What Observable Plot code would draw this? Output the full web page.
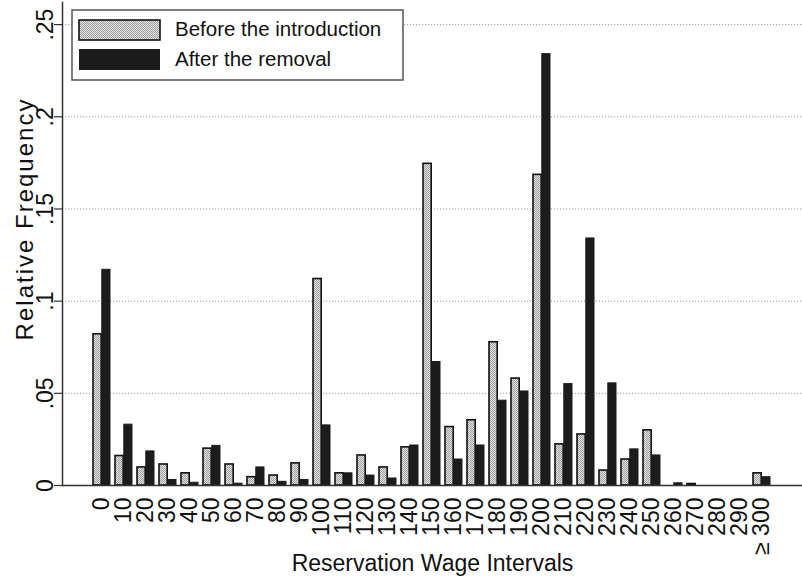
<!DOCTYPE html>
<html><head><meta charset="utf-8">
<script src="https://cdn.jsdelivr.net/npm/d3@7"></script>
<script src="https://cdn.jsdelivr.net/npm/@observablehq/plot@0.6"></script>
<style>body{margin:0;background:#fff;} svg{display:block;}</style>
</head><body><div id="chart"></div>
<script>
const categories = ["0","10","20","30","40","50","60","70","80","90","100","110","120","130","140","150","160","170","180","190","200","210","220","230","240","250","260","270","280","290","≥ 300"];
const before = [0.082,0.016,0.0098,0.0114,0.0066,0.020,0.0114,0.0045,0.0054,0.012,0.112,0.0066,0.0163,0.0098,0.0207,0.1745,0.0317,0.0354,0.0777,0.058,0.1685,0.0223,0.0277,0.0081,0.0141,0.0299,0,0.0008,0,0,0.0066];
const after = [0.117,0.033,0.0185,0.003,0.0015,0.0215,0.001,0.0098,0.002,0.003,0.0326,0.0066,0.0054,0.0038,0.0217,0.067,0.0141,0.0217,0.046,0.051,0.234,0.055,0.134,0.0554,0.0196,0.0163,0.0012,0,0,0,0.0045];
const yTicks = [0,0.05,0.1,0.15,0.2,0.25];
const seriesNames = ["Before the introduction","After the removal"];
const xTitle = "Reservation Wage Intervals";
const yTitle = "Relative Frequency";

const rows = categories.map((c,i)=>({cat:c, before:before[i], after:after[i]}));

const W=802, H=578, mL=62, mR=0, mT=2, mB=93;
const padIn=0.22, padOut=1.0;
const step = (W-mL-mR)/(categories.length - padIn + 2*padOut);
const half = step*(1-padIn)/2;
const fmt = d => d === 0 ? "0" : String(d).replace(/^0/, "");
const font = "'Liberation Sans', Arial, Helvetica, sans-serif";

const plot = Plot.plot({
  width:W, height:H, marginLeft:mL, marginRight:mR, marginTop:mT, marginBottom:mB,
  style:{fontFamily:font, background:"#fff", color:"#111"},
  x:{type:"band", domain:categories, paddingInner:padIn, paddingOuter:padOut, axis:null},
  y:{domain:[0,0.262], axis:null},
  marks:[
    Plot.gridY(yTicks.slice(1), {stroke:"#9a9a9a", strokeOpacity:1, strokeDasharray:"1.2,1.8", strokeWidth:1}),
    Plot.barY(rows.filter(d=>d.before>0), {x:"cat", y:"before", insetRight:half, fill:"url(#stip)", stroke:"#111", strokeWidth:1.6}),
    Plot.barY(rows.filter(d=>d.after>0), {x:"cat", y:"after", insetLeft:half, fill:"#1c1c1c", stroke:"#1c1c1c", strokeWidth:1}),
    Plot.ruleY([0], {stroke:"#333", strokeWidth:1.5}),
    Plot.frame({anchor:"left", stroke:"#333", strokeWidth:1.5}),
    Plot.axisY(yTicks, {tickSize:8, tickFormat:()=>"", label:null, stroke:"#333", strokeWidth:1.2}),
    Plot.text(yTicks, {y:d=>d, text:fmt, frameAnchor:"left", dx:-10, rotate:-90, textAnchor:"middle", lineAnchor:"bottom", fontSize:23, fill:"#111"}),
    Plot.text(categories, {x:d=>d, text:d=>d, frameAnchor:"bottom", dy:12, rotate:-90, textAnchor:"end", lineAnchor:"middle", fontSize:23, fill:"#111"}),
    Plot.text([xTitle], {frameAnchor:"bottom", dy:85, textAnchor:"middle", lineAnchor:"bottom", fontSize:23, fill:"#111"}),
    Plot.text([yTitle], {frameAnchor:"left", dx:-30, dy:-25, rotate:-90, textAnchor:"middle", lineAnchor:"bottom", fontSize:24, fill:"#111"})
  ]
});

const svg = d3.select(plot);
const defs = svg.insert("defs", ":first-child");
const pat = defs.append("pattern").attr("id","stip").attr("width",2).attr("height",2).attr("patternUnits","userSpaceOnUse");
pat.append("rect").attr("width",2).attr("height",2).attr("fill","#e2e2e2");
pat.append("rect").attr("x",0).attr("y",0).attr("width",1).attr("height",1).attr("fill","#a0a0a0");
pat.append("rect").attr("x",1).attr("y",1).attr("width",1).attr("height",1).attr("fill","#a0a0a0");

svg.selectAll("text").filter(function(){return this.textContent===yTitle;})
  .attr("letter-spacing", 2);

// legend
const lg = svg.append("g").attr("font-family", font).attr("text-anchor","start");
lg.append("rect").attr("x",72).attr("y",10).attr("width",331).attr("height",70)
  .attr("fill","#fff").attr("stroke","#555").attr("stroke-width",1.5);
lg.append("rect").attr("x",79).attr("y",20).attr("width",81).attr("height",20)
  .attr("fill","url(#stip)").attr("stroke","#111").attr("stroke-width",1.6);
lg.append("rect").attr("x",79).attr("y",49).attr("width",81).attr("height",21)
  .attr("fill","#1c1c1c");
lg.append("text").attr("x",175).attr("y",36).attr("font-size",20.5).attr("fill","#111").text(seriesNames[0]);
lg.append("text").attr("x",175).attr("y",66).attr("font-size",20.5).attr("fill","#111").text(seriesNames[1]);

document.getElementById("chart").appendChild(plot);
</script>
</body></html>
